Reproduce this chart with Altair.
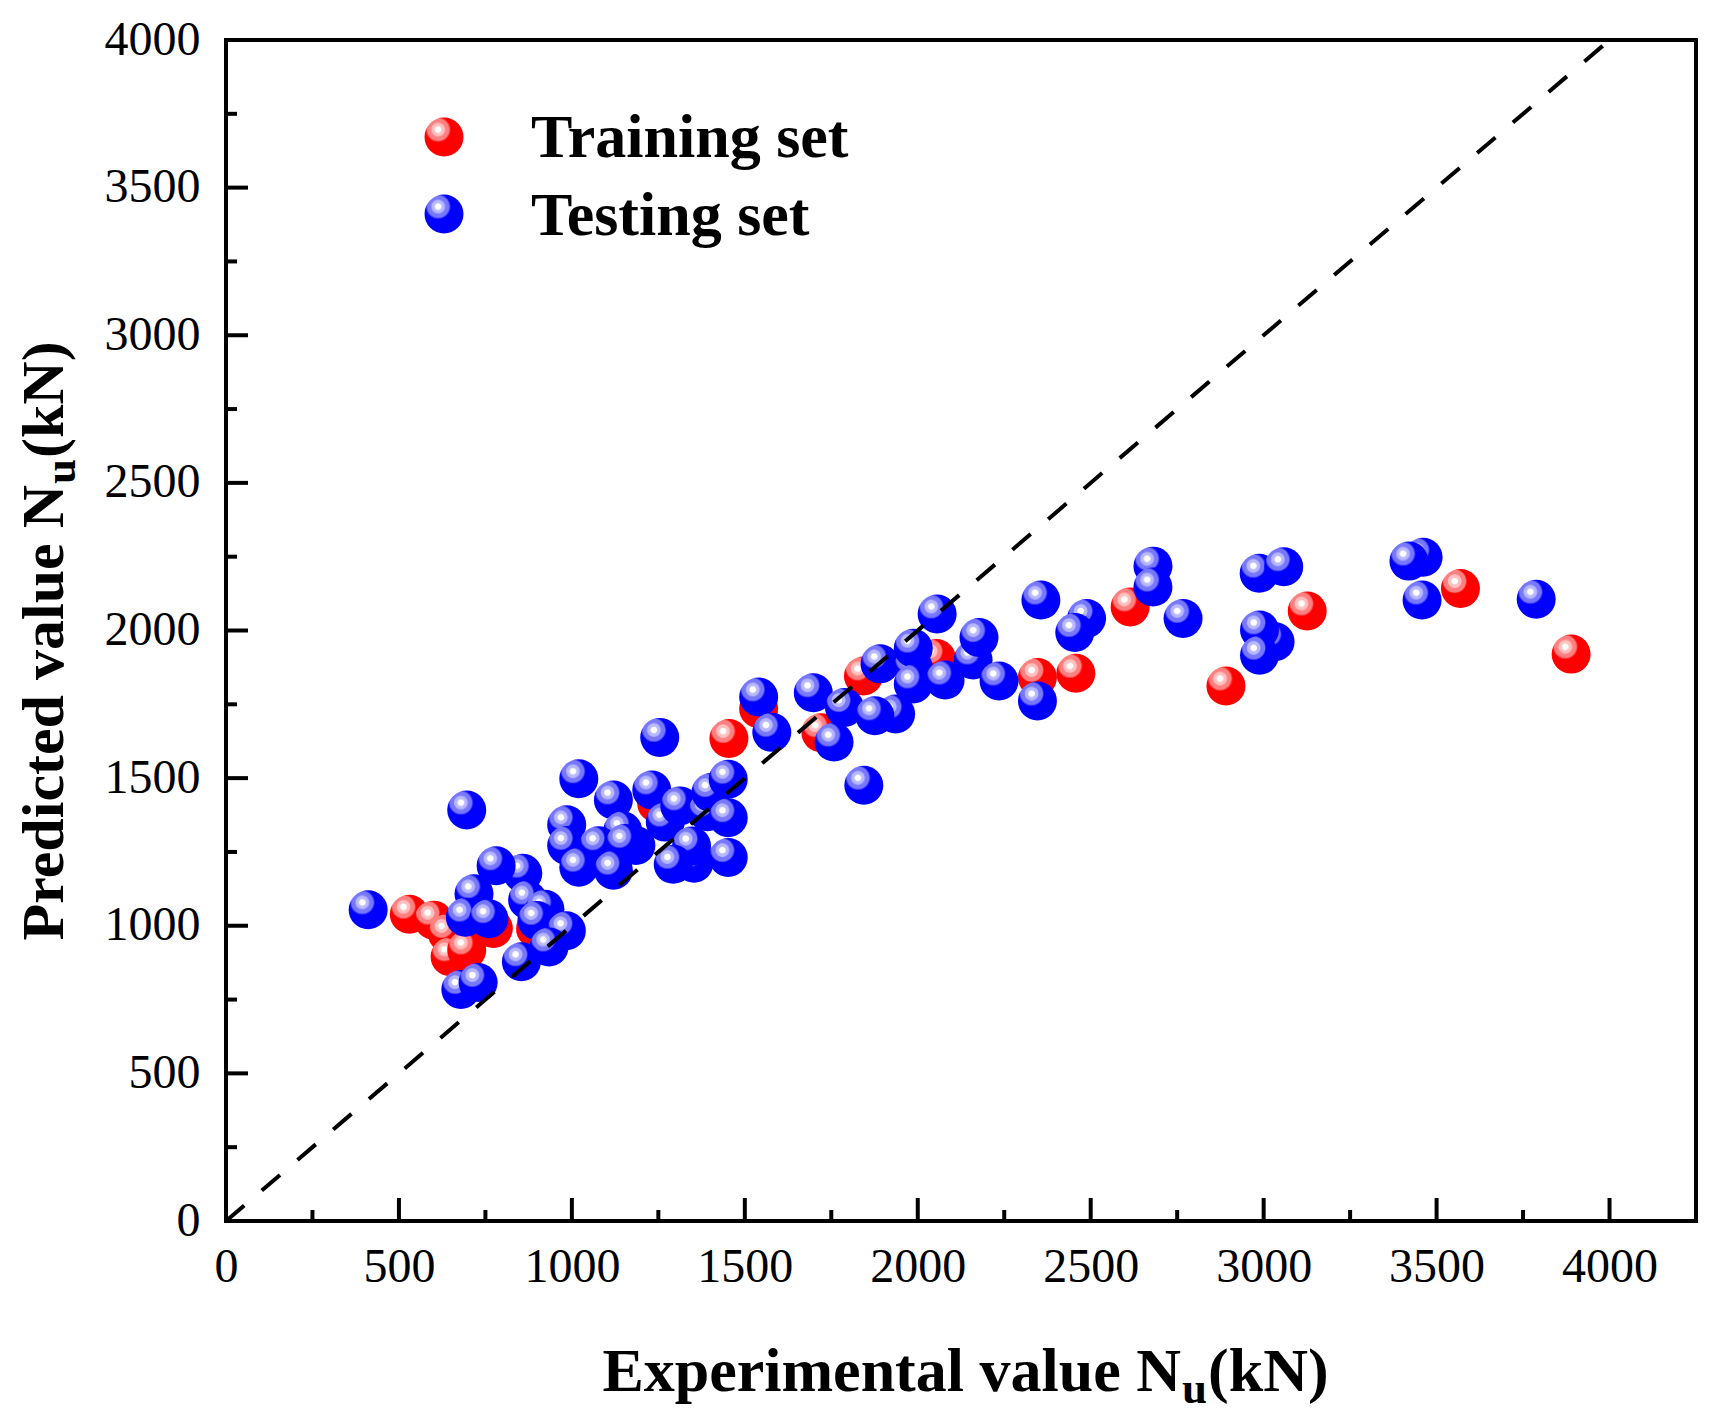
import altair as alt
import pandas as pd

# ---------------- data ----------------
train_x = [530, 600, 640, 648, 696, 773, 895, 1245, 1454, 1540, 1720, 1843,
           2054, 2346, 2457, 2614, 2891, 3126, 3569, 3889]
train_y = [1039, 1019, 974, 895, 918, 991, 990, 1415, 1634, 1735, 1654, 1846,
           1905, 1841, 1855, 2080, 1812, 2066, 2142, 1920]

test_x = [411, 696, 858, 781, 717, 872, 692, 760, 922, 899, 984, 934, 854, 679, 729,
          1254, 1020, 1231, 1120, 1270, 1312, 1392, 1402, 1452, 1452, 1147, 985, 985,
          1185, 1077, 1154, 1020, 1120, 1353, 1346, 1293, 1452,
          1540, 1578, 1698, 1758, 1788, 1936, 1876, 1891, 1987, 1987, 1987, 2056, 2079,
          2160, 2177, 2235, 2346, 2356, 2488, 2454, 1844,
          2680, 2680, 2767, 2987, 3058, 3033, 2988, 2988, 3461, 3420, 3458, 3788]
test_y = [1054, 1392, 1178, 1203, 1108, 1087, 1029, 1024, 1056, 1018, 983, 928, 878, 784, 808,
          1638, 1498, 1460, 1426, 1351, 1406, 1386, 1451, 1496, 1366, 1322, 1342, 1272,
          1272, 1271, 1279, 1198, 1188, 1212, 1270, 1208, 1231,
          1775, 1655, 1789, 1622, 1739, 1717, 1711, 1887, 1875, 1940, 1819, 2056, 1832,
          1900, 1976, 1829, 1761, 2103, 2041, 1993, 1476,
          2218, 2147, 2041, 2194, 2216, 1962, 2002, 1916, 2248, 2235, 2103, 2106]

diag_x = [0, 4000]
diag_y = [0, 4000]

major_ticks = [0, 500, 1000, 1500, 2000, 2500, 3000, 3500, 4000]
minor_ticks = [250, 750, 1250, 1750, 2250, 2750, 3250, 3750]

legend_labels = ["Training set", "Testing set"]
x_title = ["Experimental value N", "u", "(kN)"]
y_title = ["Predicted value N", "u", "(kN)"]

# ---------------- layout ----------------
W, H = 1470, 1181
FONT = "Liberation Serif"

xs = alt.Scale(domain=[0, 4250], nice=False, zero=False)
ys = alt.Scale(domain=[0, 4000], nice=False, zero=False)

xaxis = alt.Axis(values=major_ticks, ticks=False, tickSize=0, domain=False, grid=False,
                 labelFont=FONT, labelFontSize=48, labelColor="black", labelPadding=22,
                 labelFlush=False, labelOverlap=False, title=None, format="d")
yaxis = alt.Axis(values=major_ticks, ticks=False, tickSize=0, domain=False, grid=False,
                 labelFont=FONT, labelFontSize=48, labelColor="black", labelPadding=26,
                 labelFlush=False, labelOverlap=False, title=None, format="d")


def ball(base, ring1, ring2):
    return alt.RadialGradient(
        gradient="radial", x1=0.35, y1=0.31, r1=0, x2=0.35, y2=0.31, r2=0.34,
        stops=[
            alt.GradientStop(offset=0.0, color="#ffffff"),
            alt.GradientStop(offset=0.22, color="#ffffff"),
            alt.GradientStop(offset=0.28, color=ring2),
            alt.GradientStop(offset=0.48, color=ring2),
            alt.GradientStop(offset=0.55, color=ring1),
            alt.GradientStop(offset=0.82, color=ring1),
            alt.GradientStop(offset=0.94, color=base),
            alt.GradientStop(offset=1.0, color=base),
        ])


red_ball = ball("#ff0000", "#ff8080", "#ffc0c0")
blue_ball = ball("#0000ff", "#7878ff", "#b8b8ff")
BALL = 1521

df_train = pd.DataFrame({"x": train_x, "y": train_y})
df_test = pd.DataFrame({"x": test_x, "y": test_y})
df_diag = pd.DataFrame({"x": diag_x, "y": diag_y})
df_major = pd.DataFrame({"v": major_ticks})
df_minor = pd.DataFrame({"v": minor_ticks})
one = pd.DataFrame({"k": [0]})

base_axes = alt.Chart(df_train).mark_point(opacity=0).encode(
    x=alt.X("x:Q", scale=xs, axis=xaxis),
    y=alt.Y("y:Q", scale=ys, axis=yaxis),
)

train = alt.Chart(df_train).mark_circle(size=BALL, opacity=1, fill=red_ball, strokeOpacity=0).encode(
    x=alt.X("x:Q", scale=xs), y=alt.Y("y:Q", scale=ys))
test = alt.Chart(df_test).mark_circle(size=BALL, opacity=1, fill=blue_ball, strokeOpacity=0).encode(
    x=alt.X("x:Q", scale=xs), y=alt.Y("y:Q", scale=ys))

diag = alt.Chart(df_diag).mark_line(color="black", strokeWidth=4, strokeDash=[24, 23]).encode(
    x=alt.X("x:Q", scale=xs), y=alt.Y("y:Q", scale=ys))

# inward ticks
xmaj = alt.Chart(df_major).mark_rule(color="black", strokeWidth=4).encode(
    x=alt.X("v:Q", scale=xs), y=alt.value(H), y2=alt.value(H - 23))
xmin = alt.Chart(df_minor).mark_rule(color="black", strokeWidth=4).encode(
    x=alt.X("v:Q", scale=xs), y=alt.value(H), y2=alt.value(H - 11))
ymaj = alt.Chart(df_major).mark_rule(color="black", strokeWidth=4).encode(
    y=alt.Y("v:Q", scale=ys), x=alt.value(0), x2=alt.value(22))
ymin = alt.Chart(df_minor).mark_rule(color="black", strokeWidth=4).encode(
    y=alt.Y("v:Q", scale=ys), x=alt.value(0), x2=alt.value(11))

# legend
leg_red = alt.Chart(one).mark_circle(size=BALL, opacity=1, fill=red_ball, strokeOpacity=0).encode(
    x=alt.value(218), y=alt.value(97))
leg_blue = alt.Chart(one).mark_circle(size=BALL, opacity=1, fill=blue_ball, strokeOpacity=0).encode(
    x=alt.value(218), y=alt.value(174))
leg_t1 = alt.Chart(one).mark_text(text=legend_labels[0], font=FONT, fontSize=62, fontWeight="bold",
                                  align="left", baseline="alphabetic", color="black").encode(
    x=alt.value(305), y=alt.value(117))
leg_t2 = alt.Chart(one).mark_text(text=legend_labels[1], font=FONT, fontSize=62, fontWeight="bold",
                                  align="left", baseline="alphabetic", color="black").encode(
    x=alt.value(305), y=alt.value(195))

# axis titles with subscript
TF = 62
SF = 45
xt1 = alt.Chart(one).mark_text(text=x_title[0], font=FONT, fontSize=TF, fontWeight="bold",
                               align="right", baseline="alphabetic", color="black").encode(
    x=alt.value(955), y=alt.value(1351))
xt2 = alt.Chart(one).mark_text(text=x_title[1], font=FONT, fontSize=SF, fontWeight="bold",
                               align="left", baseline="alphabetic", color="black").encode(
    x=alt.value(956), y=alt.value(1363))
xt3 = alt.Chart(one).mark_text(text=x_title[2], font=FONT, fontSize=TF, fontWeight="bold",
                               align="left", baseline="alphabetic", color="black").encode(
    x=alt.value(982), y=alt.value(1351))

YTF = 60
yt1 = alt.Chart(one).mark_text(text=y_title[0], font=FONT, fontSize=YTF, fontWeight="bold", angle=270,
                               align="right", baseline="alphabetic", color="black").encode(
    x=alt.value(-163), y=alt.value(445))
yt2 = alt.Chart(one).mark_text(text=y_title[1], font=FONT, fontSize=SF, fontWeight="bold", angle=270,
                               align="left", baseline="alphabetic", color="black").encode(
    x=alt.value(-151), y=alt.value(444))
yt3 = alt.Chart(one).mark_text(text=y_title[2], font=FONT, fontSize=YTF, fontWeight="bold", angle=270,
                               align="left", baseline="alphabetic", color="black").encode(
    x=alt.value(-163), y=alt.value(418))

chart = alt.layer(
    base_axes, xmaj, xmin, ymaj, ymin, train, test, diag,
    leg_red, leg_blue, leg_t1, leg_t2,
    xt1, xt2, xt3, yt1, yt2, yt3,
).properties(
    width=W, height=H,
    autosize=alt.AutoSizeParams(type="none"),
    padding={"left": 218, "top": 32, "right": 18, "bottom": 196},
    background="white",
).configure_view(
    stroke="black", strokeWidth=4,
)

chart.save("out.html", embed_options={"renderer": "svg", "actions": False})
